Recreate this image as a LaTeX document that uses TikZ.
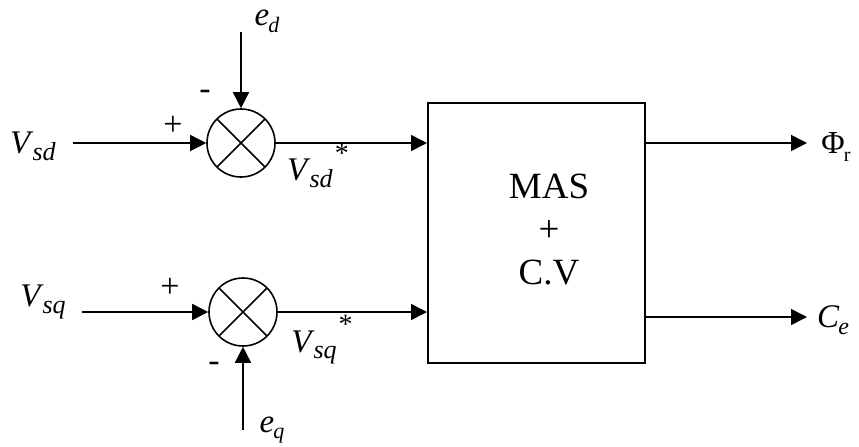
\documentclass[tikz,border=0pt]{standalone}
\usepackage{fontspec}
\setmainfont{Liberation Serif}
\usetikzlibrary{arrows.meta, positioning}

% italic symbol with lowered italic index
\newcommand{\sig}[3][12]{\textit{#2}\kern-0.5pt\raisebox{-0.45ex}{\fontsize{#1}{#1}\selectfont\textit{#3}}}
\newcommand{\refstar}{\kern1pt\raisebox{1.2ex}{\fontsize{14}{14}\selectfont *}}

\begin{document}
\begin{tikzpicture}[x=0.5pt, y=-0.5pt,
  sig/.style={line width=0.8pt, -{Triangle[length=8pt,width=8pt]}},
  sumnode/.style={circle, draw, line width=0.8pt, minimum size=34pt, inner sep=0pt,
    path picture={\draw[line width=0.8pt]
      (path picture bounding box.north west) -- (path picture bounding box.south east)
      (path picture bounding box.north east) -- (path picture bounding box.south west);}},
  lbl/.style={font=\fontsize{16.5}{16.5}\selectfont, inner sep=1pt},
  sgn/.style={font=\fontsize{17}{17}\selectfont, inner sep=0pt}]
\useasboundingbox (0,0) rectangle (859,446);
%%-- summing junctions and the machine block --
\node[sumnode] (sumd) at (241,143) {};
\node[sumnode] (sumq) at (243,312) {};
\node[draw, line width=1pt, minimum width=108.5pt, minimum height=130pt] (mas) at (536.5,233) {};
\node[align=center, font=\fontsize{18.5}{21.5}\selectfont] (mastxt) at (549,230) {MAS\\+\\C.V};
%%-- input labels and free ends --
\node[lbl] (vsd) at (33,146) {\sig[13]{V}{sd}};
\node[lbl] (vsq) at (43,302) {\sig[13]{V}{sq}};
\coordinate (vsdin) at (73,143);
\coordinate (vsqin) at (82,312);
\node[lbl] (ed) at (267,21) {\sig[11]{e}{d}};
\node[lbl] (eq) at (272,430) {\sig[11]{e}{q}};
\coordinate (edin) at (241,32);
\coordinate (eqin) at (243,430);
%%-- signs --
\node[sgn] (plusd) at (173,126) {+};
\node[sgn] (minusd) at (205,95) {-};
\node[sgn] (plusq) at (170,288) {+};
\node[sgn] (minusq) at (214,367) {-};
%%-- connectors --
\draw[sig] (vsdin) -- (sumd.west);
\draw[sig] (vsqin) -- (sumq.west);
\draw[sig] (edin) -- (sumd.north);
\draw[sig] (eqin) -- (sumq.south);
\draw[sig] (sumd.east) -- (mas.west |- sumd);
\draw[sig] (sumq.east) -- (mas.west |- sumq);
\node[lbl] (vsdref) at (318,166) {\sig[13]{V}{sd}\refstar};
\node[lbl] (vsqref) at (322,340) {\sig[13]{V}{sq}\refstar};
%%-- outputs --
\coordinate (phiend) at (807,143);
\coordinate (ceend) at (807,317);
\draw[sig] (mas.east |- phiend) -- (phiend);
\draw[sig] (mas.east |- ceend) -- (ceend);
\node[lbl, font=\fontsize{16}{16}\selectfont] (phi) at (836,147) {Φ\kern-0.5pt\raisebox{-0.5ex}{\fontsize{10}{10}\selectfont r}};
\node[lbl] (ce) at (833,320) {\sig[12]{C}{e}};
\end{tikzpicture}
\end{document}
